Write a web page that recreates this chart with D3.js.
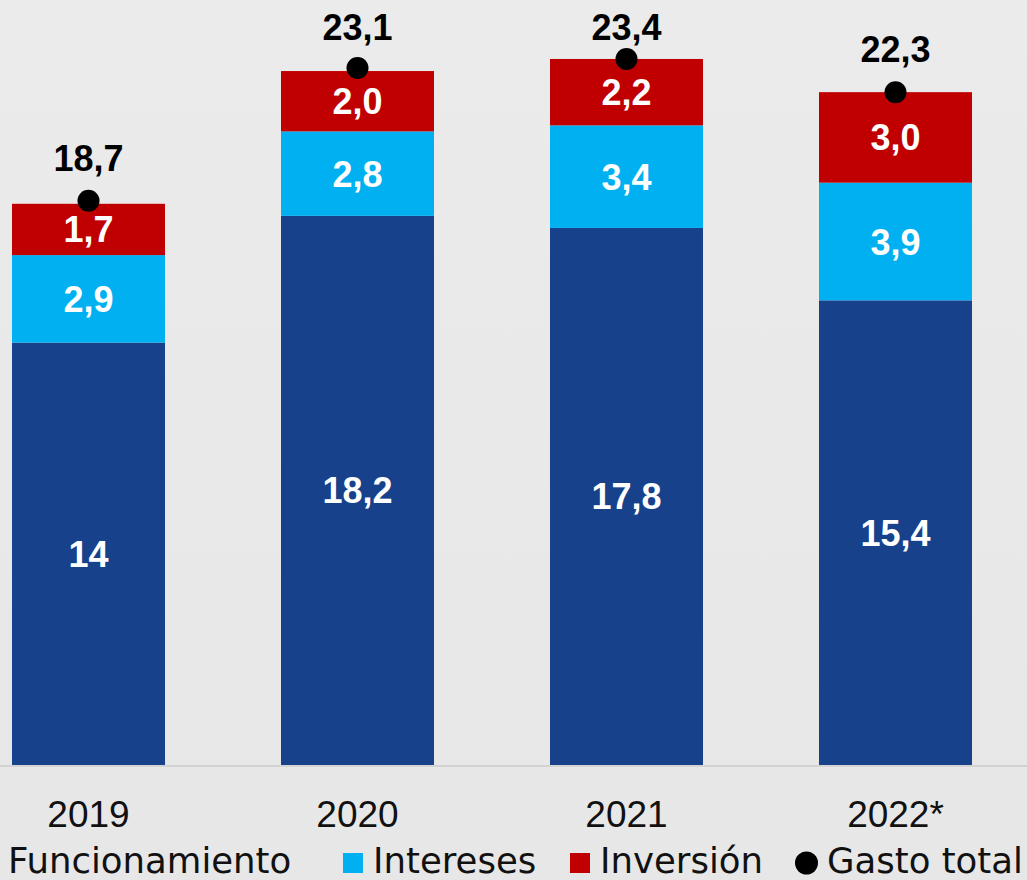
<!DOCTYPE html>
<html>
<head>
<meta charset="utf-8">
<script src="https://cdn.jsdelivr.net/npm/d3@7"></script>
<style>
  html, body { margin: 0; padding: 0; background: #e8e8e8; }
  svg { display: block; }
</style>
</head>
<body>
<svg id="chart" width="1027" height="880"></svg>
<script>
// Gasto por componente (values written as displayed, decimal comma)
const years          = ["2019", "2020", "2021", "2022*"];
const funcionamiento = ["14",   "18,2", "17,8", "15,4"];
const intereses      = ["2,9",  "2,8",  "3,4",  "3,9"];
const inversion      = ["1,7",  "2,0",  "2,2",  "3,0"];
const gastoTotal     = ["18,7", "23,1", "23,4", "22,3"];

const seriesNames  = ["Funcionamiento", "Intereses", "Inversión"];
const seriesColors = ["#17418B", "#00B0F0", "#C00000"];
const totalName    = "Gasto total";

const num = s => +s.replace(",", ".");

const W = 1027, H = 880;
const svg = d3.select("#chart");

// background
const defs = svg.append("defs");
const grad = defs.append("linearGradient").attr("id", "bg").attr("x1", 0).attr("y1", 0).attr("x2", 0).attr("y2", 1);
grad.append("stop").attr("offset", "0%").attr("stop-color", "#ebebeb");
grad.append("stop").attr("offset", "100%").attr("stop-color", "#e7e7e7");
svg.append("rect").attr("width", W).attr("height", H).attr("fill", "url(#bg)");

const x = d3.scaleBand()
  .domain(years)
  .range([-46, 1030])
  .paddingInner(0.4312)
  .paddingOuter(0.2156);

const y = d3.scaleLinear().domain([0, 25]).range([765, 10.7]);

// stacked layout
const rows = years.map((yr, i) => ({
  year: yr,
  Funcionamiento: num(funcionamiento[i]),
  Intereses: num(intereses[i]),
  "Inversión": num(inversion[i]),
  labels: [funcionamiento[i], intereses[i], inversion[i]]
}));
const stack = d3.stack().keys(seriesNames)(rows);

// baseline
svg.append("line")
  .attr("x1", 0).attr("x2", W)
  .attr("y1", y(0) + 1).attr("y2", y(0) + 1)
  .attr("stroke", "#d3d3d3").attr("stroke-width", 2);

const layers = svg.append("g").selectAll("g")
  .data(stack).join("g")
  .attr("fill", (d, i) => seriesColors[i]);

layers.selectAll("rect")
  .data(d => d).join("rect")
  .attr("x", d => x(d.data.year))
  .attr("width", x.bandwidth())
  .attr("y", d => y(d[1]))
  .attr("height", d => y(d[0]) - y(d[1]));

// segment value labels
stack.forEach((layer, k) => {
  svg.append("g").selectAll("text")
    .data(layer).join("text")
    .attr("x", d => x(d.data.year) + x.bandwidth() / 2)
    .attr("y", d => (y(d[0]) + y(d[1])) / 2 + 13)
    .attr("text-anchor", "middle")
    .attr("fill", "#ffffff")
    .attr("font-family", "'Liberation Sans', Arial, sans-serif")
    .attr("font-weight", "bold")
    .attr("font-size", 36)
    .text(d => d.data.labels[k]);
});

// total markers and labels
const totals = years.map((yr, i) => ({ year: yr, label: gastoTotal[i], value: num(gastoTotal[i]) }));
svg.append("g").selectAll("circle")
  .data(totals).join("circle")
  .attr("cx", d => x(d.year) + x.bandwidth() / 2)
  .attr("cy", d => y(d.value))
  .attr("r", 11)
  .attr("fill", "#000");

// labels sit above the marker, kept inside the top edge
svg.append("g").selectAll("text")
  .data(totals).join("text")
  .attr("x", d => x(d.year) + x.bandwidth() / 2)
  .attr("y", d => Math.max(y(d.value) - 30, 40))
  .attr("text-anchor", "middle")
  .attr("fill", "#000")
  .attr("font-family", "'Liberation Sans', Arial, sans-serif")
  .attr("font-weight", "bold")
  .attr("font-size", 36)
  .text(d => d.label);

// category axis
const xAxis = svg.append("g")
  .attr("transform", `translate(0, ${y(0)})`)
  .call(d3.axisBottom(x).tickSize(0).tickPadding(0));
xAxis.select(".domain").remove();
xAxis.selectAll("text")
  .attr("dy", null)
  .attr("y", 62)
  .attr("fill", "#111")
  .attr("font-family", "'Liberation Sans', Arial, sans-serif")
  .attr("font-size", 37);

// legend
const legendItems = [
  { name: seriesNames[0], color: seriesColors[0], shape: "rect",   x: -22 },
  { name: seriesNames[1], color: seriesColors[1], shape: "rect",   x: 343 },
  { name: seriesNames[2], color: seriesColors[2], shape: "rect",   x: 570 },
  { name: totalName,      color: "#000",          shape: "circle", x: 795 }
];
const legend = svg.append("g").attr("transform", "translate(0, 863)");
const li = legend.selectAll("g").data(legendItems).join("g")
  .attr("transform", d => `translate(${d.x}, 0)`);
li.filter(d => d.shape === "rect").append("rect")
  .attr("x", 0).attr("y", -10).attr("width", 20).attr("height", 20)
  .attr("fill", d => d.color);
li.filter(d => d.shape === "circle").append("circle")
  .attr("cx", 11.5).attr("cy", 0).attr("r", 11.5)
  .attr("fill", d => d.color);
li.append("text")
  .attr("x", d => d.shape === "circle" ? 32 : 30)
  .attr("y", 10)
  .attr("fill", "#111")
  .attr("font-family", "'DejaVu Sans', sans-serif")
  .attr("font-size", 35.5)
  .text(d => d.name);
</script>
</body>
</html>
